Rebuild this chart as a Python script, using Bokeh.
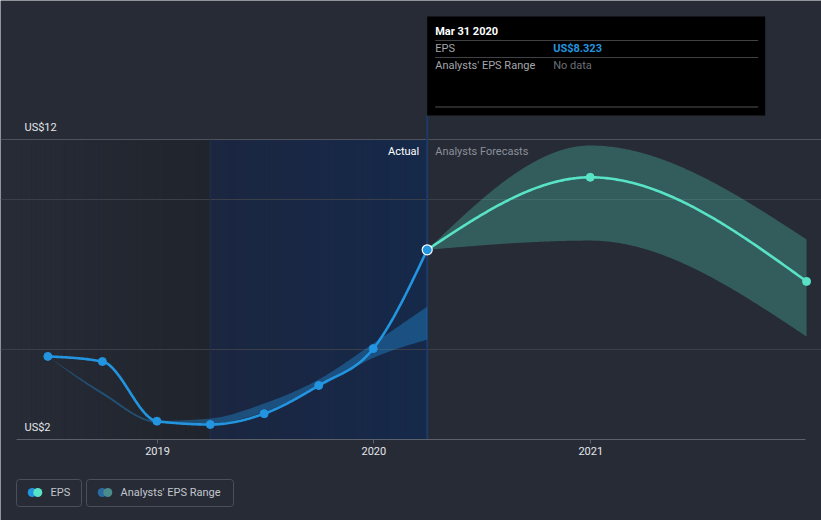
import numpy as np
import pandas as pd
from bokeh.plotting import figure
from bokeh.models import Range1d, FixedTicker, DatetimeTickFormatter, Grid
from bokeh.core.properties import value
from bokeh.embed import file_html
from bokeh.resources import INLINE

# ---------------- data ----------------
eps_dates = ["2018-06-30", "2018-09-30", "2018-12-31", "2019-03-31",
             "2019-06-30", "2019-09-30", "2019-12-31", "2020-03-31"]
eps_values = [4.77, 4.60, 2.61, 2.50, 2.86, 3.80, 5.03, 8.323]
past_range_upper = [4.77, 3.58, 2.62, 2.70, 3.20, 4.00, 5.20, 6.43]
past_range_lower = [4.77, 3.50, 2.55, 2.52, 2.92, 3.74, 4.72, 5.33]

forecast_dates = ["2020-03-31", "2020-12-31", "2021-12-31"]
forecast_values = [8.323, 10.74, 7.27]
forecast_upper = [8.323, 11.80, 8.67]
forecast_lower = [8.323, 8.63, 5.43]

x_tick_dates = ["2019-01-01", "2020-01-01", "2021-01-01"]
y_label_values = [2, 12]
y_label_texts = ["US$2", "US$12"]
grid_major = [12]
grid_minor = [5, 10]

highlight_start = "2019-03-31"
hover_date = "2020-03-31"
section_labels = ["Actual", "Analysts Forecasts"]
tooltip_title = "Mar 31 2020"
tooltip_rows = ["EPS", "Analysts' EPS Range"]
tooltip_values = ["US$8.323", "No data"]
legend_labels = ["EPS", "Analysts' EPS Range"]

# ---------------- style / layout ----------------
BG = "#262b36"
EPS_BLUE = "#2394df"
TEAL = "#58e3c6"
FONT = value("Roboto")
W, H = 821, 520
YEAR_MS = 365.2425 * 86400000.0
PX_PER_YEAR = 216.5
PX_PER_UNIT = 30.0
TICK0_PX = 157      # screen x of the first year tick
Y12_PX = 139        # screen y of the US$12 line


def to_ms(s):
    return pd.Timestamp(s).value / 1e6


t0 = to_ms(x_tick_dates[0])


def X(sx):
    """screen x -> data x"""
    return t0 + (sx - TICK0_PX) / PX_PER_YEAR * YEAR_MS


def Y(sy):
    """screen y -> data y"""
    return grid_major[0] + (Y12_PX - sy) / PX_PER_UNIT


def px(n):
    return n / PX_PER_YEAR * YEAR_MS


def mix(c1, c2, t):
    a = np.array([int(c1[i:i + 2], 16) for i in (1, 3, 5)], float)
    b = np.array([int(c2[i:i + 2], 16) for i in (1, 3, 5)], float)
    c = a + (b - a) * t
    return "#%02x%02x%02x" % tuple(int(round(v)) for v in c)


def monotone(xs, ys, n=240):
    """d3 curveMonotoneX rendering of the given points."""
    xs = np.asarray(xs, float)
    ys = np.asarray(ys, float)
    k = len(xs)
    h = np.diff(xs)
    s = np.diff(ys) / h
    m = np.zeros(k)
    for i in range(1, k - 1):
        p_ = (s[i - 1] * h[i] + s[i] * h[i - 1]) / (h[i - 1] + h[i])
        m[i] = (np.sign(s[i - 1]) + np.sign(s[i])) * min(abs(s[i - 1]), abs(s[i]), 0.5 * abs(p_))
    if k > 2:
        m[0] = (3 * s[0] - m[1]) / 2
        m[-1] = (3 * s[-1] - m[-2]) / 2
    else:
        m[:] = s[0]
    out_x, out_y = [], []
    for i in range(k - 1):
        t = np.linspace(0, 1, n // (k - 1) + 2)
        if i > 0:
            t = t[1:]
        h00 = 2 * t**3 - 3 * t**2 + 1
        h10 = t**3 - 2 * t**2 + t
        h01 = -2 * t**3 + 3 * t**2
        h11 = t**3 - t**2
        out_x.extend(xs[i] + t * h[i])
        out_y.extend(h00 * ys[i] + h10 * h[i] * m[i] + h01 * ys[i + 1] + h11 * h[i] * m[i + 1])
    return np.array(out_x), np.array(out_y)


# ---------------- figure ----------------
p = figure(width=W, height=H, x_axis_type="datetime",
           x_range=Range1d(X(0), X(W)), y_range=Range1d(Y(H), Y(0)),
           y_axis_location=None, toolbar_location=None, output_backend="svg",
           min_border=0, background_fill_color=BG, border_fill_color=BG,
           outline_line_color=None)
p.grid.visible = False

plot_left = X(16)
plot_right = X(805)
base = y_label_values[0]
top_line = grid_major[0]

eps_x = [to_ms(d) for d in eps_dates]
fc_x = [to_ms(d) for d in forecast_dates]
hs = to_ms(highlight_start)
hv = to_ms(hover_date)

# background shading (gradients as strips)
N = 40
edges = np.linspace(plot_left, hs, N + 1)
p.quad(left=edges[:-1], right=edges[1:], bottom=base, top=top_line,
       fill_color=[mix(BG, "#20242c", (i + 0.5) / N) for i in range(N)],
       line_color=None, level="image")
edges = np.linspace(hs, hv, N + 1)
p.quad(left=edges[:-1], right=edges[1:], bottom=base, top=top_line,
       fill_color=[mix("#1b2640", "#15294b", (i + 0.5) / N) for i in range(N)],
       line_color=None, level="image")

# grid lines
p.add_layout(Grid(dimension=1, ticker=FixedTicker(ticks=grid_major),
                  bounds=(plot_left, plot_right),
                  grid_line_color="#4d525c", grid_line_width=1))
p.add_layout(Grid(dimension=1, ticker=FixedTicker(ticks=grid_minor),
                  bounds=(plot_left, plot_right),
                  grid_line_color="#3a3f4a", grid_line_width=1))

# vertical markers
p.segment(x0=[hs], y0=[base], x1=[hs], y1=[top_line],
          line_color="#1e3253", line_width=1)
tip_top = Y(16)
tip_bottom = Y(115)
p.segment(x0=[hv], y0=[base], x1=[hv], y1=[tip_bottom],
          line_color="#1e3a66", line_width=2)

# bands
bx, bu = monotone(eps_x, past_range_upper)
_, bl = monotone(eps_x, past_range_lower)
p.varea(x=bx, y1=bl, y2=bu, fill_color=EPS_BLUE, fill_alpha=0.38)
fx, fu = monotone(fc_x, forecast_upper)
_, fl = monotone(fc_x, forecast_lower)
p.varea(x=fx, y1=fl, y2=fu, fill_color=TEAL, fill_alpha=0.27)

# lines
lx, ly = monotone(eps_x, eps_values)
p.line(lx, ly, line_color=EPS_BLUE, line_width=2.6)
flx, fly = monotone(fc_x, forecast_values)
p.line(flx, fly, line_color=TEAL, line_width=2.6)

# points
p.scatter(eps_x[:-1], eps_values[:-1], size=8, fill_color=EPS_BLUE, line_color=EPS_BLUE)
p.scatter(fc_x[1:], forecast_values[1:], size=8, fill_color=TEAL, line_color=TEAL)
p.scatter(eps_x[-1:], eps_values[-1:], size=10, fill_color=EPS_BLUE,
          line_color="#ffffff", line_width=1.2)

# y labels
p.text(x=[plot_left] * len(y_label_values), y=y_label_values, text=y_label_texts,
       x_offset=8, y_offset=-12, text_baseline="middle", text_align="left",
       text_font=FONT, text_font_size="11px", text_color="#e4e6ea")

# section labels
p.text(x=[hv], y=[top_line], text=[section_labels[0]], x_offset=-8, y_offset=12,
       text_baseline="middle", text_align="right", text_font=FONT,
       text_font_size="11px", text_color="#ffffff")
p.text(x=[hv], y=[top_line], text=[section_labels[1]], x_offset=8, y_offset=12,
       text_baseline="middle", text_align="left", text_font=FONT,
       text_font_size="11px", text_color="#8b9099")

# tooltip
p.quad(left=[hv], right=[hv + px(338)], top=[tip_top], bottom=[tip_bottom],
       fill_color="#000000", line_color=None)
sep_y = [Y(40), Y(57), Y(106.5)]
p.segment(x0=[hv + px(8)] * 3, x1=[hv + px(331)] * 3, y0=sep_y, y1=sep_y,
          line_color=["#404246", "#404246", "#505256"], line_width=1)
p.text(x=[hv], y=[top_line], text=[tooltip_title], x_offset=8, y_offset=31 - Y12_PX,
       text_baseline="middle", text_align="left", text_font=FONT,
       text_font_size="11px", text_font_style="bold", text_color="#ffffff")
p.text(x=[hv] * 2, y=[top_line] * 2, text=tooltip_rows, x_offset=8,
       y_offset=[48 - Y12_PX, 65 - Y12_PX],
       text_baseline="middle", text_align="left", text_font=FONT,
       text_font_size="11px", text_color="#a3a6ab")
p.text(x=[hv], y=[top_line], text=tooltip_values[:1], x_offset=126, y_offset=48 - Y12_PX,
       text_baseline="middle", text_align="left", text_font=FONT,
       text_font_size="11px", text_font_style="bold", text_color=EPS_BLUE)
p.text(x=[hv], y=[top_line], text=tooltip_values[1:], x_offset=126, y_offset=65 - Y12_PX,
       text_baseline="middle", text_align="left", text_font=FONT,
       text_font_size="11px", text_color="#6c6f75")

# x axis (drawn at the US$2 level, inside the frame)
ax = p.xaxis[0]
ax.fixed_location = base
ax.bounds = (plot_left, plot_right)
ax.ticker = FixedTicker(ticks=[to_ms(d) for d in x_tick_dates])
ax.formatter = DatetimeTickFormatter(years="%Y", months="%Y", days="%Y", hours="%Y")
ax.axis_line_color = "#5b606b"
ax.major_tick_line_color = "#5b606b"
ax.major_tick_in = 0
ax.major_tick_out = 4
ax.minor_tick_line_color = None
ax.major_label_standoff = 3
ax.major_label_text_font = "Roboto"
ax.major_label_text_font_size = "11px"
ax.major_label_text_color = "#e4e6ea"

# ---------------- legend (custom) ----------------
p.quad(left=[X(16), X(86)], right=[X(81), X(233)], top=[Y(479)] * 2, bottom=[Y(506)] * 2,
       fill_color=BG, line_color="#4a4f5a", line_width=1, border_radius=3)
p.scatter([X(31.7), X(101.7)], [Y(492)] * 2, size=9,
          fill_color=[EPS_BLUE, "#2a6aa3"], line_color=None)
p.scatter([X(37.3), X(107.3)], [Y(492)] * 2, size=9,
          fill_color=[TEAL, "#4a8c8a"], line_color=None)
p.text(x=[X(50), X(120)], y=[Y(492)] * 2, text=legend_labels, text_baseline="middle",
       text_align="left", text_font=FONT, text_font_size="11px", text_color="#c3c6cc")

html = file_html(p, INLINE, title="EPS")
html = html.replace("<body>", '<body style="background-color:%s;">' % BG, 1)
open("out.html", "w").write(html)
